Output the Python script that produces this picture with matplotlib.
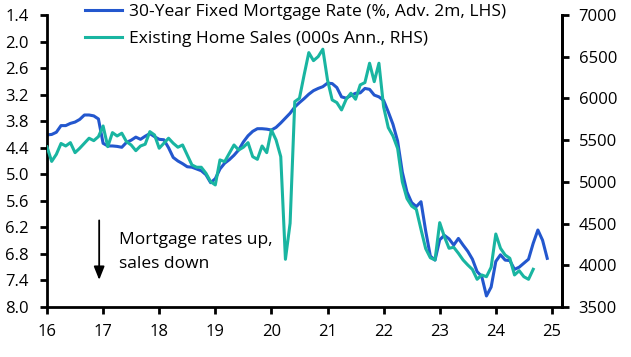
import matplotlib
matplotlib.use("Agg")
import matplotlib.pyplot as plt
import numpy as np

# Monthly observations; first point sits at the "16" tick, one point per month
start_year = 2016.0

mortgage_rate = [
    4.11, 4.10, 4.05, 3.90, 3.90, 3.85, 3.82, 3.76, 3.66, 3.66, 3.68, 3.75,
    4.30, 4.36, 4.36, 4.37, 4.39, 4.28, 4.23, 4.16, 4.21, 4.14, 4.08, 4.15,
    4.21, 4.22, 4.40, 4.62, 4.70, 4.76, 4.83, 4.84, 4.88, 4.92, 5.01, 5.19,
    5.10, 4.88, 4.75, 4.67, 4.57, 4.45, 4.27, 4.13, 4.03, 3.97, 3.97, 3.98,
    4.00, 3.94, 3.84, 3.73, 3.62, 3.48, 3.38, 3.29, 3.19, 3.11, 3.06, 3.02,
    2.94, 2.95, 3.04, 3.25, 3.28, 3.22, 3.17, 3.16, 3.06, 3.08, 3.21, 3.25,
    3.33, 3.59, 3.87, 4.25, 4.95, 5.40, 5.64, 5.73, 5.62, 6.28, 6.85, 6.94,
    6.48, 6.38, 6.46, 6.60, 6.45, 6.60, 6.74, 6.92, 7.20, 7.31, 7.75, 7.55,
    6.97, 6.82, 6.94, 6.95, 7.15, 7.10, 7.01, 6.92, 6.56, 6.26, 6.49, 6.90,
]

home_sales = [
    5420, 5245, 5330, 5460, 5430, 5470, 5350, 5403, 5463, 5523, 5494, 5542,
    5670, 5422, 5590, 5550, 5583, 5482, 5442, 5374, 5430, 5451, 5602, 5562,
    5403, 5463, 5523, 5463, 5415, 5442, 5322, 5203, 5175, 5175, 5103, 5002,
    4963, 5263, 5242, 5343, 5442, 5382, 5415, 5470, 5302, 5270, 5430, 5350,
    5622, 5502, 5302, 4072, 4504, 5962, 6002, 6282, 6549, 6453, 6501, 6590,
    6222, 5982, 5950, 5862, 5990, 6062, 5990, 6162, 6190, 6422, 6201, 6422,
    5900, 5650, 5550, 5400, 5000, 4800, 4710, 4670, 4430, 4200, 4090, 4064,
    4511, 4343, 4204, 4216, 4144, 4064, 4004, 3950, 3832, 3884, 3863, 3976,
    4375, 4204, 4123, 4084, 3884, 3935, 3863, 3832, 3952,
]

x_tick_years = [2016, 2017, 2018, 2019, 2020, 2021, 2022, 2023, 2024, 2025]
x_tick_labels = ["16", "17", "18", "19", "20", "21", "22", "23", "24", "25"]
left_ticks = [1.4, 2.0, 2.6, 3.2, 3.8, 4.4, 5.0, 5.6, 6.2, 6.8, 7.4, 8.0]
right_ticks = [3500, 4000, 4500, 5000, 5500, 6000, 6500, 7000]

label_rate = "30-Year Fixed Mortgage Rate (%, Adv. 2m, LHS)"
label_sales = "Existing Home Sales (000s Ann., RHS)"
note_text = "Mortgage rates up,\nsales down"

BLUE = "#2357CE"
TEAL = "#19B5A1"
FONT = ["Open Sans", "DejaVu Sans"]
plt.rcParams["font.family"] = FONT

t_rate = start_year + np.arange(len(mortgage_rate)) / 12.0
t_sales = start_year + np.arange(len(home_sales)) / 12.0

fig = plt.figure(figsize=(6.31, 3.57), dpi=100)
ax = fig.add_axes([47 / 631, 1 - 307 / 357, (562 - 47) / 631, (307 - 15) / 357])
ax2 = ax.twinx()

l1, = ax.plot(t_rate, mortgage_rate, color=BLUE, lw=2.2, solid_joinstyle="round")
l2, = ax2.plot(t_sales, home_sales, color=TEAL, lw=2.2, solid_joinstyle="round")

ax.set_xlim(2016.0, 2025.18)
ax.set_ylim(8.0, 1.4)
ax2.set_ylim(3500, 7000)

ax.set_xticks(x_tick_years)
ax.set_xticklabels(x_tick_labels)
ax.set_yticks(left_ticks)
ax.set_yticklabels([f"{v:.1f}" for v in left_ticks])
ax2.set_yticks(right_ticks)
ax2.set_yticklabels([str(v) for v in right_ticks])

for a in (ax, ax2):
    a.spines["top"].set_visible(False)
    for s in ("left", "right", "bottom"):
        a.spines[s].set_linewidth(2.0)
        a.spines[s].set_color("black")
    a.tick_params(width=2.0, length=5, labelsize=12, colors="black")
ax2.spines["left"].set_visible(False)
ax2.spines["bottom"].set_visible(False)
ax.tick_params(axis="x", pad=7)
ax.tick_params(axis="y", pad=8)
ax2.tick_params(axis="y", pad=7)

fs_leg = 12.5
ax2.legend([l1, l2], [label_rate, label_sales], loc="upper left",
           bbox_to_anchor=(78 / 631, 1 + 3 / 357), bbox_transform=fig.transFigure,
           frameon=False, fontsize=fs_leg,
           handlelength=2.15, handletextpad=0.4, labelspacing=0.62,
           borderaxespad=0.0)

ax.annotate("", xy=(2016.93, 7.45), xytext=(2016.93, 5.98),
            arrowprops=dict(arrowstyle="-|>,head_length=0.8,head_width=0.32",
                            color="black", lw=1.3))
ax.text(2017.29, 6.76, note_text, fontsize=12.5, va="center", ha="left",
        linespacing=1.65)

fig.savefig("out.png", dpi=100)
